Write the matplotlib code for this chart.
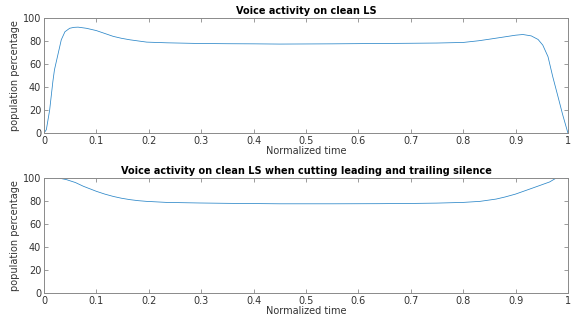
import matplotlib
matplotlib.use("Agg")
import matplotlib.pyplot as plt

# ---------- data ----------
full_t = [0, 0.0045, 0.0108, 0.017, 0.02, 0.027, 0.033, 0.04, 0.049, 0.057, 0.065,
          0.081, 0.1, 0.116, 0.132, 0.148, 0.164, 0.18, 0.196, 0.234, 0.297, 0.35,
          0.4, 0.45, 0.5, 0.55, 0.64, 0.7, 0.75, 0.8, 0.83, 0.851, 0.88, 0.9, 0.914,
          0.93, 0.943, 0.952, 0.962, 0.971, 0.981, 0.99, 1.0]
full_pct = [0, 3, 20, 45, 55, 69, 81, 88, 91, 91.8, 92,
            91, 89, 86.5, 84, 82.3, 81, 80, 79, 78.4, 77.8, 77.6,
            77.5, 77.3, 77.4, 77.5, 77.8, 78.0, 78.2, 78.7, 80.2, 81.6, 83.6, 85, 85.6,
            84.4, 81.3, 76.4, 66.3, 49, 31.7, 15.9, 0]

cut_t = [0, 0.027, 0.043, 0.06, 0.075, 0.1, 0.116, 0.132, 0.148, 0.164, 0.18,
         0.196, 0.234, 0.297, 0.35, 0.4, 0.45, 0.5, 0.55, 0.64, 0.7, 0.75, 0.8,
         0.832, 0.863, 0.88, 0.9, 0.933, 0.965, 0.978, 1.0]
cut_pct = [100, 100, 98.5, 96, 92.8, 88.4, 86, 84, 82.4, 81.2, 80.3,
           79.7, 78.8, 78.3, 78.0, 77.8, 77.6, 77.6, 77.6, 77.7, 77.9, 78.2, 78.8,
           79.7, 81.7, 83.5, 86, 91.3, 96.5, 100, 100]

titles = ["Voice activity on clean LS",
          "Voice activity on clean LS when cutting leading and trailing silence"]

LINE = "#2a86c8"
AX = "#8a8a8a"
TXT = "#333333"

plt.rcParams["font.family"] = "DejaVu Sans"
plt.rcParams["font.size"] = 7

fig = plt.figure(figsize=(5.72, 3.2), dpi=100)
ax1 = fig.add_axes([0.0769, 0.584, 0.916, 0.360])
ax2 = fig.add_axes([0.0769, 0.083, 0.916, 0.361])

# ---------- MATLAB-like axes ----------
for ax, t, y, title in [(ax1, full_t, full_pct, titles[0]),
                        (ax2, cut_t, cut_pct, titles[1])]:
    ax.plot(t, y, color=LINE, linewidth=0.55)
    ax.set_xlim(0, 1)
    ax.set_ylim(0, 100)
    ax.set_xticks([i / 10 for i in range(11)])
    ax.set_xticklabels(["0", "0.1", "0.2", "0.3", "0.4", "0.5",
                        "0.6", "0.7", "0.8", "0.9", "1"])
    ax.set_yticks(range(0, 101, 20))
    ax.tick_params(direction="in", top=True, right=True, length=3,
                   width=0.6, color=AX, labelcolor=TXT, labelsize=7, pad=2)
    for s in ax.spines.values():
        s.set_color(AX)
        s.set_linewidth(0.7)
    ax.set_xlabel("Normalized time", color=TXT, labelpad=0)
    ax.set_ylabel("population percentage", color=TXT, labelpad=2)
    ax.set_title(title, fontweight="bold", fontsize=7, color="black", pad=3)

fig.savefig("out.png", dpi=100)
